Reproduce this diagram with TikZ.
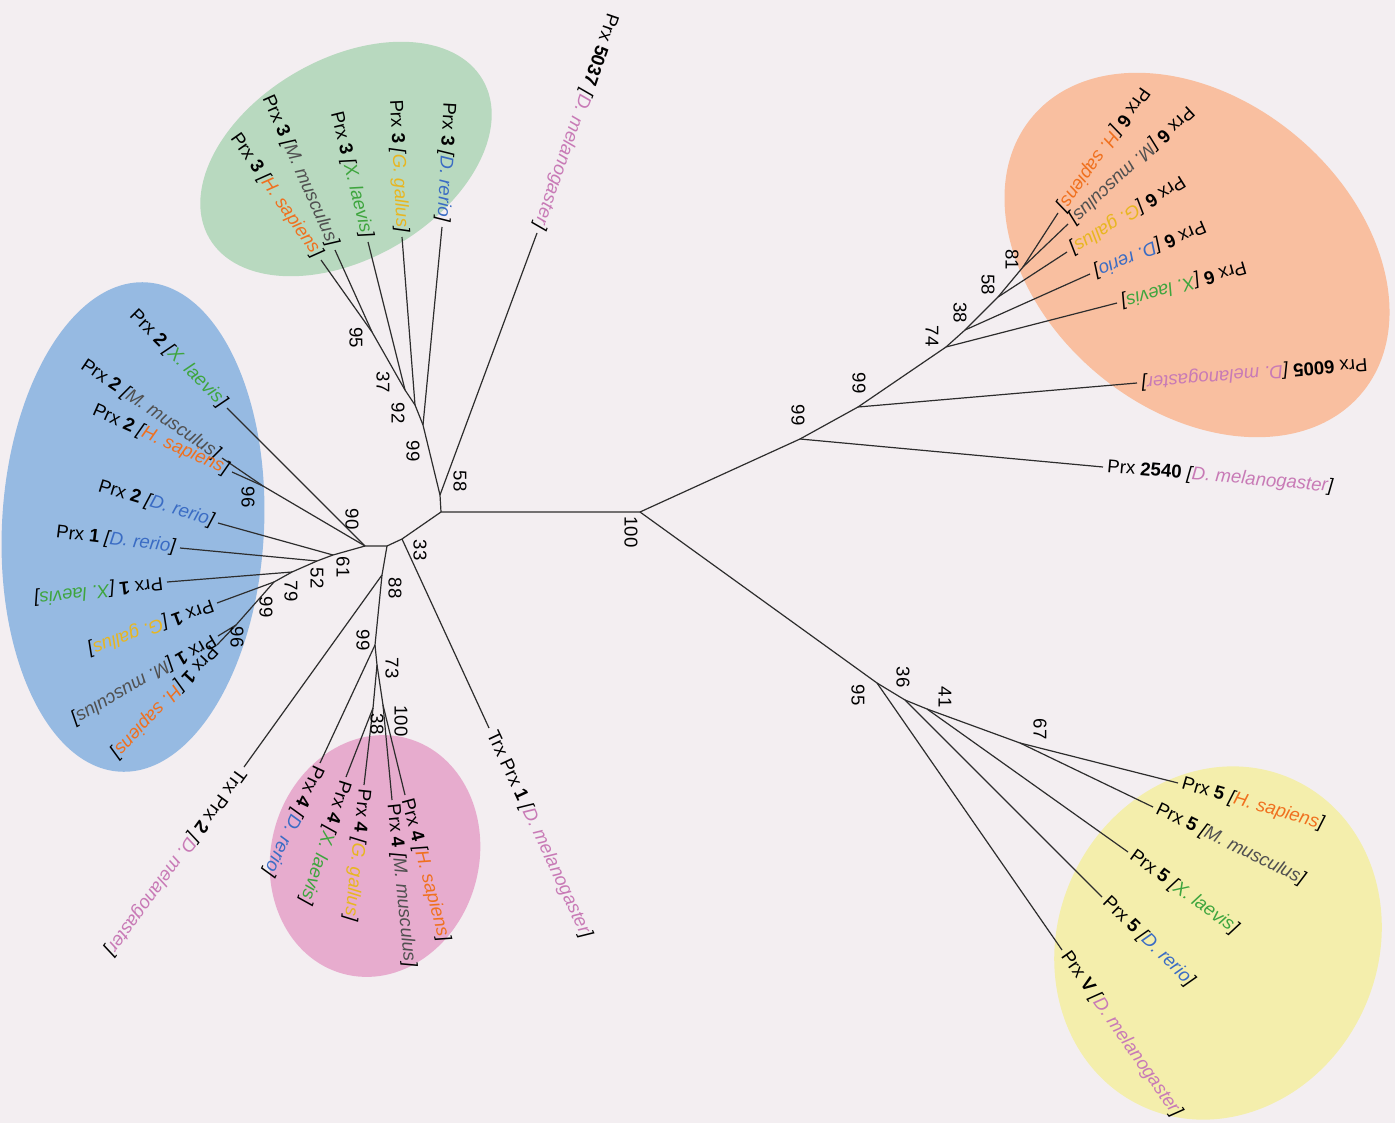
\documentclass[tikz,border=0pt]{standalone}
\usepackage{fontspec}
\setmainfont{Liberation Sans}
\definecolor{bgpage}{RGB}{243,238,241}
\definecolor{branch}{RGB}{45,45,45}
\definecolor{hsap}{RGB}{240,112,30}
\definecolor{mmus}{RGB}{80,80,80}
\definecolor{xlae}{RGB}{62,165,62}
\definecolor{ggal}{RGB}{232,182,32}
\definecolor{drer}{RGB}{58,108,196}
\definecolor{dmel}{RGB}{200,122,182}
\definecolor{elgreen}{RGB}{184,217,191}
\definecolor{elblue}{RGB}{150,186,226}
\definecolor{elpink}{RGB}{231,172,206}
\definecolor{elorange}{RGB}{249,191,160}
\definecolor{elyellow}{RGB}{244,238,172}
\def\lblfont{\fontsize{9.3}{11}\selectfont}
\def\Hs{\textit{[\textcolor{hsap}{H. sapiens}]}}
\def\Mm{\textit{[\textcolor{mmus}{M. musculus}]}}
\def\Xl{\textit{[\textcolor{xlae}{X. laevis}]}}
\def\Gg{\textit{[\textcolor{ggal}{G. gallus}]}}
\def\Dr{\textit{[\textcolor{drer}{D. rerio}]}}
\def\Dm{\textit{[\textcolor{dmel}{D. melanogaster}]}}
\tikzset{
  br/.style={draw=branch, line width=0.6pt},
  tipout/.style={anchor=west, inner sep=2pt, font=\lblfont},
  tipin/.style={anchor=east, inner sep=2pt, font=\lblfont},
  boot/.style={rotate=-90, inner sep=0pt, font=\lblfont},
}

\begin{document}
\begin{tikzpicture}[x=0.5pt,y=-0.5pt]
  \fill[bgpage] (0,0) rectangle (1395,1123);
  \useasboundingbox (0,0) rectangle (1395,1123);
  % coloured groups
  \fill[elgreen, rotate around={30:(346,159)}] (346,159) ellipse [x radius=158, y radius=100];
  \fill[elblue, rotate around={-3:(133,527)}] (133,527) ellipse [x radius=131, y radius=245];
  \fill[elpink, rotate around={-15:(375,856)}] (375,856) ellipse [x radius=104, y radius=122];
  \fill[elorange, rotate around={-40:(1197,255)}] (1197,255) ellipse [x radius=215, y radius=155];
  \fill[elyellow, rotate around={-25:(1218,943)}] (1218,943) ellipse [x radius=160, y radius=180];

  % inner nodes
  \coordinate (root) at (640,512);
  \coordinate (n100) at (441,512);
  \coordinate (n58b) at (440,495);
  \coordinate (n99c) at (423,425);
  \coordinate (n92) at (415,405);
  \coordinate (n37) at (405,390);
  \coordinate (n95c) at (372,332);
  \coordinate (n33) at (402,539);
  \coordinate (nmid) at (387,546);
  \coordinate (n90) at (365,546);
  \coordinate (n96b) at (263,486);
  \coordinate (n61) at (333,555);
  \coordinate (n52) at (317,561);
  \coordinate (n79) at (292,572);
  \coordinate (n99d) at (274,582);
  \coordinate (n96d) at (236,625);
  \coordinate (n88) at (382,575);
  \coordinate (n99e) at (375,645);
  \coordinate (n73) at (377,665);
  \coordinate (n38b) at (373,708);
  \coordinate (n100b) at (383,705);
  \coordinate (n99a) at (800,439);
  \coordinate (n99b) at (858,407);
  \coordinate (n74) at (946,347);
  \coordinate (n38a) at (965,330);
  \coordinate (n58a) at (998,297);
  \coordinate (n81) at (1023,267);
  \coordinate (n95a) at (877,683);
  \coordinate (n36) at (905,700);
  \coordinate (n41) at (927,709);
  \coordinate (n67) at (1020,743);

  % leaf tips
  \coordinate (p3dr) at (442,227);
  \coordinate (p3gg) at (402,237);
  \coordinate (p3xl) at (368,242);
  \coordinate (p3mm) at (335,250);
  \coordinate (p3hs) at (321,260);
  \coordinate (p5037) at (537,233);
  \coordinate (p2xl) at (227,408);
  \coordinate (p2mm) at (222,458);
  \coordinate (p2hs) at (232,472);
  \coordinate (p2dr) at (218,523);
  \coordinate (p1dr) at (180,548);
  \coordinate (p1xl) at (167,582);
  \coordinate (p1gg) at (217,603);
  \coordinate (p1mm) at (218,636);
  \coordinate (p1hs) at (217,645);
  \coordinate (trx2) at (244,767);
  \coordinate (p4dr) at (320,763);
  \coordinate (p4xl) at (346,777);
  \coordinate (p4gg) at (364,785);
  \coordinate (p4mm) at (392,800);
  \coordinate (p4hs) at (405,795);
  \coordinate (trx1) at (489,728);
  \coordinate (p2540) at (1103,467);
  \coordinate (p6005) at (1137,383);
  \coordinate (p6xl) at (1117,303);
  \coordinate (p6dr) at (1090,274);
  \coordinate (p6gg) at (1067,252);
  \coordinate (p6mm) at (1068,224);
  \coordinate (p6hs) at (1058,213);
  \coordinate (p5hs) at (1178,783);
  \coordinate (p5mm) at (1153,807);
  \coordinate (p5xl) at (1128,852);
  \coordinate (p5dr) at (1102,897);
  \coordinate (pV) at (1062,950);

  % branches
  \draw[br] (root) -- (n100) -- (n58b) -- (n99c) -- (n92) -- (n37) -- (n95c) -- (p3hs);
  \draw[br] (n95c) -- (p3mm);
  \draw[br] (n37) -- (p3xl);
  \draw[br] (n92) -- (p3gg);
  \draw[br] (n99c) -- (p3dr);
  \draw[br] (n58b) -- (p5037);
  \draw[br] (n100) -- (n33) -- (nmid) -- (n90) -- (p2xl);
  \draw[br] (n90) -- (n96b) -- (p2mm);
  \draw[br] (n96b) -- (p2hs);
  \draw[br] (n90) -- (n61) -- (n52) -- (n79) -- (n99d) -- (n96d) -- (p1mm);
  \draw[br] (n96d) -- (p1hs);
  \draw[br] (n61) -- (p2dr);
  \draw[br] (n52) -- (p1dr);
  \draw[br] (n79) -- (p1xl);
  \draw[br] (n99d) -- (p1gg);
  \draw[br] (n33) -- (trx1);
  \draw[br] (nmid) -- (n88) -- (trx2);
  \draw[br] (n88) -- (n99e) -- (p4dr);
  \draw[br] (n99e) -- (n73) -- (n38b) -- (p4xl);
  \draw[br] (n38b) -- (p4gg);
  \draw[br] (n73) -- (n100b) -- (p4mm);
  \draw[br] (n100b) -- (p4hs);
  \draw[br] (root) -- (n99a) -- (p2540);
  \draw[br] (n99a) -- (n99b) -- (p6005);
  \draw[br] (n99b) -- (n74) -- (p6xl);
  \draw[br] (n74) -- (n38a) -- (p6dr);
  \draw[br] (n38a) -- (n58a) -- (p6gg);
  \draw[br] (n58a) -- (n81) -- (p6mm);
  \draw[br] (n81) -- (p6hs);
  \draw[br] (root) -- (n95a) -- (pV);
  \draw[br] (n95a) -- (n36) -- (p5dr);
  \draw[br] (n36) -- (n41) -- (p5xl);
  \draw[br] (n41) -- (n67) -- (p5mm);
  \draw[br] (n67) -- (p5hs);

  % leaf labels
  \node[tipin, rotate=-93] (l3dr) at (p3dr) {Prx \textbf{3} \Dr};
  \node[tipin, rotate=-87] (l3gg) at (p3gg) {Prx \textbf{3} \Gg};
  \node[tipin, rotate=-76] (l3xl) at (p3xl) {Prx \textbf{3} \Xl};
  \node[tipin, rotate=-66] (l3mm) at (p3mm) {Prx \textbf{3} \Mm};
  \node[tipin, rotate=-55] (l3hs) at (p3hs) {Prx \textbf{3} \Hs};
  \node[tipin, rotate=-109] (l5037) at (p5037) {Prx \textbf{5037} \Dm};
  \node[tipin, rotate=-45] (l2xl) at (p2xl) {Prx \textbf{2} \Xl};
  \node[tipin, rotate=-34] (l2mm) at (p2mm) {Prx \textbf{2} \Mm};
  \node[tipin, rotate=-24] (l2hs) at (p2hs) {Prx \textbf{2} \Hs};
  \node[tipin, rotate=-17] (l2dr) at (p2dr) {Prx \textbf{2} \Dr};
  \node[tipin, rotate=-7] (l1dr) at (p1dr) {Prx \textbf{1} \Dr};
  \node[tipout, rotate=-173] (l1xl) at (p1xl) {Prx \textbf{1} \Xl};
  \node[tipout, rotate=-160] (l1gg) at (p1gg) {Prx \textbf{1} \Gg};
  \node[tipout, rotate=-150] (l1mm) at (p1mm) {Prx \textbf{1} \Mm};
  \node[tipout, rotate=-133] (l1hs) at (p1hs) {Prx \textbf{1} \Hs};
  \node[tipout, rotate=-126] (ltrx2) at (trx2) {Trx Prx \textbf{2} \Dm};
  \node[tipout, rotate=-115] (l4dr) at (p4dr) {Prx \textbf{4} \Dr};
  \node[tipout, rotate=-108] (l4xl) at (p4xl) {Prx \textbf{4} \Xl};
  \node[tipout, rotate=-96] (l4gg) at (p4gg) {Prx \textbf{4} \Gg};
  \node[tipout, rotate=-84] (l4mm) at (p4mm) {Prx \textbf{4} \Mm};
  \node[tipout, rotate=-75] (l4hs) at (p4hs) {Prx \textbf{4} \Hs};
  \node[tipout, rotate=-65] (ltrx1) at (trx1) {Trx Prx \textbf{1} \Dm};
  \node[tipout, rotate=-5] (l2540) at (p2540) {Prx \textbf{2540} \Dm};
  \node[tipin, rotate=-175] (l6005) at (p6005) {Prx \textbf{6005} \Dm};
  \node[tipin, rotate=-164] (l6xl) at (p6xl) {Prx \textbf{6} \Xl};
  \node[tipin, rotate=-157] (l6dr) at (p6dr) {Prx \textbf{6} \Dr};
  \node[tipin, rotate=-148] (l6gg) at (p6gg) {Prx \textbf{6} \Gg};
  \node[tipin, rotate=-137] (l6mm) at (p6mm) {Prx \textbf{6} \Mm};
  \node[tipin, rotate=-125] (l6hs) at (p6hs) {Prx \textbf{6} \Hs};
  \node[tipout, rotate=-16] (l5hs) at (p5hs) {Prx \textbf{5} \Hs};
  \node[tipout, rotate=-26] (l5mm) at (p5mm) {Prx \textbf{5} \Mm};
  \node[tipout, rotate=-36] (l5xl) at (p5xl) {Prx \textbf{5} \Xl};
  \node[tipout, rotate=-44] (l5dr) at (p5dr) {Prx \textbf{5} \Dr};
  \node[tipout, rotate=-55] (lV) at (pV) {Prx \textbf{V} \Dm};

  % bootstrap values
  \node[boot] (b100) at (631,532) {100};
  \node[boot] (b58b) at (460,481) {58};
  \node[boot] (b99c) at (413,451) {99};
  \node[boot] (b92) at (398,413) {92};
  \node[boot] (b37) at (383,382) {37};
  \node[boot] (b95c) at (356,338) {95};
  \node[boot] (b33) at (420,550) {33};
  \node[boot] (b88) at (395,588) {88};
  \node[boot] (b90) at (352,519) {90};
  \node[boot] (b96b) at (248,497) {96};
  \node[boot] (b61) at (343,567) {61};
  \node[boot] (b52) at (317,578) {52};
  \node[boot] (b79) at (291,591) {79};
  \node[boot] (b99d) at (266,607) {99};
  \node[boot] (b96d) at (237,637) {96};
  \node[boot] (b99e) at (363,640) {99};
  \node[boot] (b73) at (392,668) {73};
  \node[boot] (b38b) at (377,724) {38};
  \node[boot] (b100b) at (401,721) {100};
  \node[boot] (b99a) at (798,415) {99};
  \node[boot] (b99b) at (859,383) {99};
  \node[boot] (b74) at (932,336) {74};
  \node[boot] (b38a) at (960,313) {38};
  \node[boot] (b58a) at (988,285) {58};
  \node[boot] (b81) at (1012,260) {81};
  \node[boot] (b95a) at (858,695) {95};
  \node[boot] (b36) at (903,677) {36};
  \node[boot] (b41) at (945,697) {41};
  \node[boot] (b67) at (1040,729) {67};
\end{tikzpicture}
\end{document}
